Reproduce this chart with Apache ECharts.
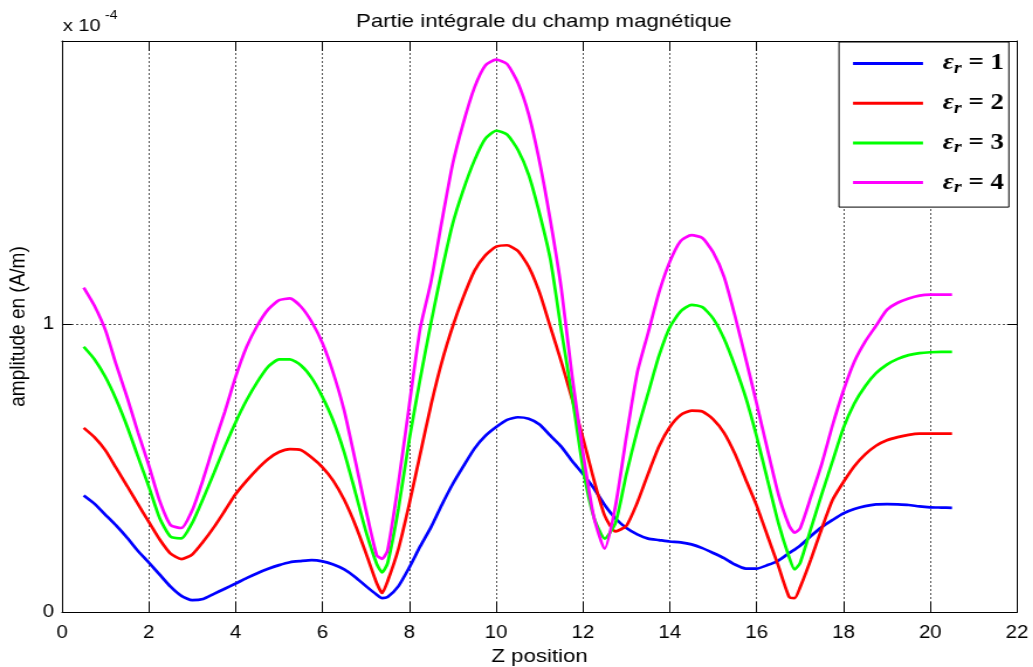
<!DOCTYPE html>
<html><head><meta charset="utf-8">
<script src="https://cdn.jsdelivr.net/npm/echarts@6/dist/echarts.min.js"></script>
<style>
html,body{margin:0;padding:0;background:#fff;overflow:hidden;}
#wrap{width:1033px;height:667px;overflow:hidden;position:relative;background:#fff;}
#chart{position:absolute;left:0;top:0;height:667px;transform-origin:0 0;}
</style></head><body>
<div id="wrap"><div id="chart"></div></div>
<script>
// ---- data (amplitude in units of 1e-4 A/m) ----
const zPos = [0.5,0.75,1,1.25,1.5,1.75,2,2.25,2.5,2.75,3,3.25,3.5,3.75,4,4.25,4.5,4.75,5,5.25,5.5,5.75,6,6.25,6.5,6.75,7,7.25,7.375,7.5,7.75,8,8.25,8.5,8.75,9,9.25,9.5,9.75,10,10.25,10.5,10.75,11,11.25,11.5,11.75,12,12.25,12.5,12.75,13,13.25,13.5,13.75,14,14.25,14.5,14.75,15,15.25,15.5,15.75,16,16.25,16.5,16.75,16.875,17,17.25,17.5,17.75,18,18.25,18.5,18.75,19,19.25,19.5,19.75,20,20.25,20.5];
const er1 = [0.405,0.376,0.338,0.300,0.258,0.212,0.172,0.130,0.088,0.056,0.041,0.045,0.063,0.081,0.099,0.118,0.135,0.150,0.163,0.173,0.177,0.180,0.176,0.165,0.148,0.122,0.090,0.060,0.048,0.052,0.090,0.155,0.228,0.295,0.373,0.445,0.508,0.568,0.612,0.643,0.668,0.677,0.672,0.652,0.613,0.575,0.525,0.480,0.430,0.372,0.325,0.292,0.270,0.255,0.250,0.245,0.242,0.235,0.222,0.205,0.187,0.165,0.151,0.151,0.163,0.179,0.205,0.217,0.230,0.264,0.295,0.320,0.343,0.358,0.368,0.374,0.375,0.374,0.372,0.367,0.364,0.363,0.362];
const er2 = [0.640,0.607,0.562,0.500,0.438,0.375,0.313,0.252,0.203,0.184,0.200,0.244,0.295,0.352,0.410,0.456,0.497,0.532,0.556,0.566,0.563,0.537,0.503,0.456,0.390,0.305,0.205,0.100,0.066,0.107,0.220,0.376,0.548,0.720,0.870,0.993,1.097,1.186,1.240,1.270,1.275,1.255,1.200,1.110,0.990,0.870,0.740,0.605,0.460,0.335,0.280,0.300,0.380,0.480,0.575,0.643,0.685,0.700,0.697,0.670,0.623,0.550,0.460,0.370,0.265,0.160,0.052,0.048,0.085,0.183,0.290,0.390,0.452,0.507,0.548,0.578,0.597,0.608,0.616,0.620,0.620,0.620,0.620];
const er3 = [0.922,0.878,0.817,0.738,0.645,0.540,0.436,0.326,0.262,0.256,0.310,0.394,0.483,0.575,0.660,0.736,0.800,0.853,0.878,0.878,0.858,0.814,0.747,0.664,0.555,0.420,0.280,0.167,0.138,0.170,0.360,0.600,0.810,1.006,1.187,1.350,1.470,1.570,1.645,1.673,1.660,1.607,1.520,1.385,1.225,0.980,0.750,0.500,0.330,0.255,0.310,0.480,0.630,0.760,0.890,0.990,1.045,1.068,1.060,1.020,0.950,0.855,0.745,0.610,0.460,0.310,0.190,0.148,0.170,0.290,0.410,0.525,0.640,0.725,0.785,0.830,0.860,0.880,0.893,0.900,0.903,0.904,0.904];
const er4 = [1.128,1.064,0.980,0.859,0.746,0.624,0.510,0.386,0.302,0.292,0.354,0.461,0.582,0.696,0.818,0.921,0.996,1.052,1.084,1.090,1.062,1.009,0.934,0.830,0.700,0.530,0.355,0.197,0.185,0.215,0.450,0.720,0.985,1.148,1.359,1.558,1.703,1.823,1.900,1.920,1.905,1.840,1.730,1.565,1.360,1.125,0.820,0.555,0.330,0.220,0.370,0.610,0.832,0.970,1.110,1.218,1.290,1.310,1.300,1.250,1.165,1.030,0.880,0.725,0.565,0.410,0.300,0.276,0.290,0.400,0.515,0.650,0.770,0.870,0.940,0.995,1.050,1.075,1.090,1.100,1.103,1.103,1.103];
const seriesNames = ['ε_r = 1','ε_r = 2','ε_r = 3','ε_r = 4'];
const seriesColors = ['#0000ff','#ff0000','#00ff00','#ff00ff'];
const yTickLabels = ['0','1'];

// ---- layout (figure is horizontally stretched, like the original) ----
const S = 1.17;
const el = document.getElementById('chart');
el.style.width = (1033 / S) + 'px';
el.style.transform = 'scaleX(' + S + ')';
const h = v => v / S;

const chart = echarts.init(el);
const allSeries = [er1, er2, er3, er4];
const font = "'Liberation Sans', Arial, sans-serif";
const serif = "'Liberation Serif', 'DejaVu Serif', serif";
const axisBase = {
  min: 0, axisLine: {show: true, onZero: false, lineStyle: {color: '#000', width: 1}},
  splitLine: {show: false}
};
const gridLine = {show: true, lineStyle: {color: '#555', type: [2, 2], width: 1}};
const option = {
  animation: false,
  backgroundColor: '#fff',
  title: {
    text: 'Partie intégrale du champ magnétique',
    left: h(538), top: 7, textAlign: 'center',
    textStyle: {fontFamily: font, fontWeight: 'normal', fontSize: 19, color: '#000'}
  },
  grid: {left: h(62), right: h(16), top: 41, bottom: 55, containLabel: false, outerBoundsMode: 'none'},
  legend: {
    orient: 'vertical', left: h(839), top: 42,
    padding: [8, h(5), 11, h(14)],
    backgroundColor: '#fff', borderColor: '#000', borderWidth: 1,
    icon: 'rect', itemWidth: h(70), itemHeight: 3, itemGap: 12.7,
    data: seriesNames,
    formatter: name => '{sp| }{e|ε}{r|r}{t| = ' + name.split('= ')[1] + '}',
    textStyle: {
      rich: {
        sp: {width: h(14), fontSize: 10, lineHeight: 26},
        e: {fontFamily: serif, fontStyle: 'italic', fontWeight: 'bold', fontSize: 23, lineHeight: 26, color: '#000'},
        r: {fontFamily: serif, fontStyle: 'italic', fontWeight: 'bold', fontSize: 17, lineHeight: 16, padding: [10, 0, 0, 0], color: '#000'},
        t: {fontFamily: serif, fontWeight: 'bold', fontSize: 23, lineHeight: 26, color: '#000'}
      }
    }
  },
  xAxis: [
    Object.assign({}, axisBase, {
      type: 'value', max: 22, interval: 2, position: 'bottom',
      name: 'Z position', nameLocation: 'middle', nameGap: 33,
      nameTextStyle: {fontFamily: font, fontSize: 19, color: '#000'},
      axisTick: {show: true, inside: true, length: 10, lineStyle: {color: '#000'}},
      axisLabel: {fontFamily: font, fontSize: 17.5, color: '#000', margin: 12},
      splitLine: gridLine
    }),
    Object.assign({}, axisBase, {
      type: 'value', max: 22, interval: 2, position: 'top',
      axisTick: {show: true, inside: true, length: 10, lineStyle: {color: '#000'}},
      axisLabel: {show: false}
    })
  ],
  yAxis: [
    Object.assign({}, axisBase, {
      type: 'value', max: 1.985, interval: 1, position: 'left',
      name: 'amplitude en (A/m)', nameLocation: 'middle', nameGap: 27,
      nameTextStyle: {fontFamily: font, fontSize: 19, color: '#000'},
      axisTick: {show: true, inside: true, length: h(10), lineStyle: {color: '#000'}},
      axisLabel: {fontFamily: font, fontSize: 17.5, color: '#000', margin: h(8),
        formatter: v => { const i = Math.round(v); return Math.abs(v - i) < 1e-9 && i < yTickLabels.length ? yTickLabels[i] : ''; }},
      splitLine: gridLine
    }),
    Object.assign({}, axisBase, {
      type: 'value', max: 1.985, interval: 1, position: 'right',
      axisTick: {show: true, inside: true, length: h(10), lineStyle: {color: '#000'}},
      axisLabel: {show: false}
    })
  ],
  graphic: [
    {type: 'text', x: h(63), y: 26, style: {text: 'x 10', fontFamily: font, fontSize: 17, fill: '#000', verticalAlign: 'middle'}},
    {type: 'text', x: h(105), y: 16, style: {text: '-4', fontFamily: font, fontSize: 12, fill: '#000', verticalAlign: 'middle'}}
  ],
  series: allSeries.map((vals, k) => ({
    name: seriesNames[k], type: 'line', xAxisIndex: 0, yAxisIndex: 0,
    showSymbol: false, symbol: 'none', smooth: 0.2,
    data: zPos.map((z, i) => [z, vals[i]]),
    lineStyle: {color: seriesColors[k], width: 2.7},
    itemStyle: {color: seriesColors[k]},
    z: 3 + k
  }))
};
chart.setOption(option);
</script>
</body></html>
